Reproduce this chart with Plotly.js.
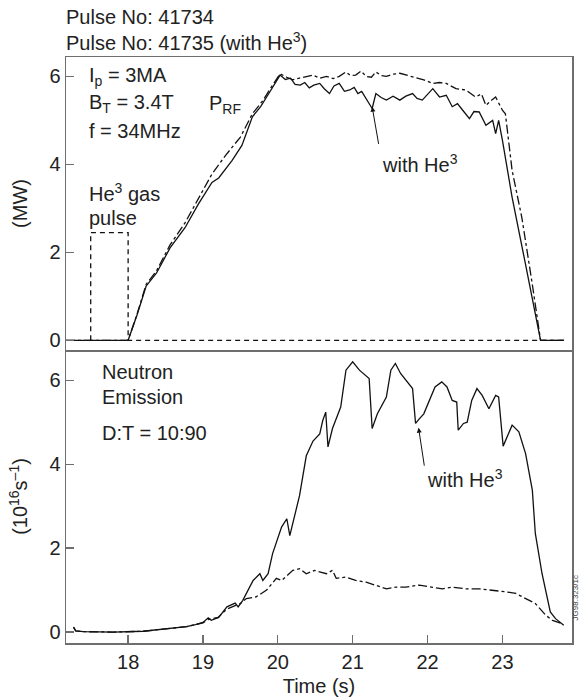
<!DOCTYPE html>
<html>
<head>
<meta charset="utf-8">
<script src="https://cdn.plot.ly/plotly-3.0.1.min.js"></script>
<style>html,body{margin:0;padding:0;background:#fff;}#chart{width:581px;height:697px;}</style>
</head>
<body>
<div id="chart"></div>
<script>
// ---- Top panel: RF power (MW) ----
const prfHe3T = [17.17, 18.0, 18.12, 18.24, 18.38, 18.56, 18.76, 18.94, 19.12, 19.21, 19.39, 19.52, 19.66, 19.77, 19.88, 20.03, 20.1, 20.17, 20.23, 20.3, 20.36, 20.42, 20.48, 20.56, 20.62, 20.69, 20.75, 20.82, 20.89, 20.96, 21.02, 21.07, 21.12, 21.18, 21.26, 21.31, 21.38, 21.45, 21.54, 21.63, 21.71, 21.8, 21.86, 21.93, 22.0, 22.07, 22.16, 22.25, 22.33, 22.4, 22.47, 22.56, 22.62, 22.69, 22.78, 22.87, 22.91, 22.95, 23.0, 23.06, 23.13, 23.31, 23.51, 23.82];
const prfHe3V = [0, 0, 0.58, 1.23, 1.53, 2.1, 2.56, 3.1, 3.59, 3.69, 4.09, 4.43, 5.08, 5.31, 5.61, 6.03, 5.93, 5.96, 5.82, 5.8, 5.86, 5.74, 5.8, 5.84, 5.72, 5.61, 5.78, 5.84, 5.66, 5.69, 5.75, 5.61, 5.66, 5.5, 5.27, 5.61, 5.52, 5.46, 5.55, 5.46, 5.55, 5.61, 5.5, 5.46, 5.6, 5.72, 5.53, 5.57, 5.31, 5.38, 5.23, 5.04, 5.2, 5.19, 4.89, 5.0, 4.7, 5.0, 4.55, 3.94, 3.25, 1.72, 0, 0];
const prfT = [17.17, 18.0, 18.12, 18.24, 18.38, 18.56, 18.76, 18.94, 19.12, 19.3, 19.5, 19.66, 19.8, 19.9, 20.03, 20.12, 20.2, 20.29, 20.38, 20.47, 20.56, 20.65, 20.74, 20.82, 20.91, 20.97, 21.04, 21.11, 21.18, 21.25, 21.31, 21.38, 21.45, 21.54, 21.63, 21.71, 21.84, 21.95, 22.07, 22.16, 22.25, 22.38, 22.51, 22.64, 22.72, 22.78, 22.85, 22.91, 23.0, 23.04, 23.13, 23.26, 23.4, 23.51, 23.82];
const prfV = [0, 0, 0.6, 1.27, 1.58, 2.17, 2.67, 3.22, 3.78, 4.2, 4.62, 5.15, 5.45, 5.72, 6.06, 5.98, 5.92, 5.96, 6.0, 6.03, 5.96, 6.0, 5.95, 6.0, 6.1, 6.02, 6.03, 6.12, 6.0, 5.98, 6.1, 6.02, 6.0, 6.05, 6.07, 6.03, 5.96, 5.92, 5.84, 5.86, 5.84, 5.72, 5.69, 5.53, 5.6, 5.34, 5.45, 5.53, 5.23, 5.15, 3.86, 2.79, 1.27, 0, 0];
const gasT = [17.5, 17.5, 18.0, 18.0, 23.82];
const gasV = [0, 2.45, 2.45, 0, 0];

// ---- Bottom panel: neutron emission (10^16 s^-1) ----
const neutHe3T = [17.27, 17.3, 17.4, 17.8, 18.2, 18.42, 18.6, 18.78, 18.9, 19.0, 19.07, 19.11, 19.21, 19.32, 19.43, 19.47, 19.53, 19.67, 19.76, 19.8, 19.87, 19.93, 20.05, 20.12, 20.16, 20.29, 20.38, 20.47, 20.56, 20.6, 20.64, 20.67, 20.73, 20.84, 20.91, 21.0, 21.09, 21.22, 21.26, 21.33, 21.45, 21.51, 21.57, 21.64, 21.8, 21.84, 21.89, 21.95, 22.1, 22.19, 22.26, 22.33, 22.39, 22.41, 22.48, 22.53, 22.59, 22.66, 22.73, 22.82, 22.91, 22.95, 23.01, 23.06, 23.13, 23.22, 23.31, 23.4, 23.44, 23.53, 23.64, 23.71, 23.82];
const neutHe3V = [0.12, 0.03, 0.01, 0.0, 0.02, 0.06, 0.09, 0.13, 0.18, 0.23, 0.34, 0.28, 0.35, 0.6, 0.69, 0.6, 0.75, 1.23, 1.39, 1.23, 1.39, 1.87, 2.5, 2.7, 2.3, 3.25, 4.2, 4.55, 4.72, 5.04, 5.24, 4.41, 4.85, 5.36, 6.24, 6.44, 6.24, 6.04, 4.85, 5.2, 5.6, 6.24, 6.4, 6.16, 5.8, 4.97, 5.08, 5.2, 5.84, 5.96, 5.84, 5.52, 5.48, 4.81, 4.97, 5.0, 5.52, 5.8, 5.64, 5.32, 5.64, 5.6, 4.43, 4.65, 4.93, 4.77, 4.25, 3.38, 2.35, 1.39, 0.48, 0.32, 0.16];
const neutT = [17.27, 17.3, 17.4, 17.8, 18.2, 18.42, 18.6, 18.78, 18.9, 19.0, 19.07, 19.2, 19.32, 19.43, 19.5, 19.58, 19.71, 19.85, 19.98, 20.05, 20.2, 20.29, 20.38, 20.49, 20.56, 20.65, 20.73, 20.78, 20.91, 21.04, 21.18, 21.31, 21.45, 21.58, 21.71, 21.89, 22.07, 22.2, 22.33, 22.51, 22.69, 22.87, 23.04, 23.18, 23.31, 23.44, 23.58, 23.67, 23.8];
const neutV = [0.12, 0.03, 0.01, 0.0, 0.02, 0.06, 0.09, 0.13, 0.18, 0.22, 0.3, 0.35, 0.55, 0.62, 0.68, 0.8, 0.84, 1.0, 1.28, 1.23, 1.47, 1.51, 1.39, 1.47, 1.43, 1.39, 1.47, 1.28, 1.31, 1.23, 1.19, 1.12, 1.03, 1.07, 1.07, 1.12, 1.07, 1.03, 1.07, 1.03, 1.03, 1.0, 0.96, 0.92, 0.8, 0.68, 0.4, 0.28, 0.2];

const xTicks = [18, 19, 20, 21, 22, 23];
const yTicks = [0, 2, 4, 6];

const ink = '#111';
const axisCol = '#6e6e6e';
const FONT = 'Liberation Sans, Arial, Helvetica, sans-serif';
const tf = {family: FONT, size: 20, color: '#222'};

const traces = [
  {x: gasT, y: gasV, xaxis: 'x', yaxis: 'y', mode: 'lines', line: {color: ink, width: 1.3, dash: '5px,4px'}},
  {x: prfT, y: prfV, xaxis: 'x', yaxis: 'y', mode: 'lines', line: {color: ink, width: 1.3, dash: 'dashdot'}},
  {x: prfHe3T, y: prfHe3V, xaxis: 'x', yaxis: 'y', mode: 'lines', line: {color: ink, width: 1.3}},
  {x: neutT, y: neutV, xaxis: 'x2', yaxis: 'y2', mode: 'lines', line: {color: ink, width: 1.3, dash: 'dashdot'}},
  {x: neutHe3T, y: neutHe3V, xaxis: 'x2', yaxis: 'y2', mode: 'lines', line: {color: ink, width: 1.3}}
];

const axBase = {showline: true, mirror: true, linecolor: axisCol, linewidth: 1.5, showgrid: false, zeroline: false,
  ticks: 'inside', ticklen: 8, tickcolor: axisCol, tickwidth: 1.3, tickfont: tf};

function ann(x, y, text, xr, yr, extra) {
  return Object.assign({x: x, y: y, xref: xr, yref: yr, text: text, showarrow: false, xanchor: 'left', yanchor: 'middle', font: tf}, extra || {});
}

const layout = {
  width: 581, height: 697,
  margin: {l: 66, r: 9, t: 57, b: 54},
  paper_bgcolor: '#fff', plot_bgcolor: '#fff',
  showlegend: false,
  font: tf,
  xaxis: Object.assign({}, axBase, {domain: [0, 1], anchor: 'y', range: [17.17, 23.93], tickvals: xTicks, showticklabels: false, ticks: ''}),
  yaxis: Object.assign({}, axBase, {domain: [0.5, 1], anchor: 'x', range: [-0.22, 6.44], tickvals: yTicks,
    title: {text: '(MW)', standoff: 16, font: tf}}),
  xaxis2: Object.assign({}, axBase, {domain: [0, 1], anchor: 'y2', mirror: false, range: [17.17, 23.93], tickvals: xTicks,
    title: {text: 'Time (s)', standoff: 8, font: tf}}),
  yaxis2: Object.assign({}, axBase, {domain: [0, 0.5], anchor: 'x2', range: [-0.26, 6.72], tickvals: yTicks,
    title: {text: '(10<sup>16</sup>s<sup>–1</sup>)', standoff: 16, font: tf}}),
  annotations: [
    {x: 0, y: 1.0, xref: 'paper', yref: 'paper', yshift: 40, xshift: -2, text: 'Pulse No: 41734', showarrow: false, xanchor: 'left', yanchor: 'middle', font: tf},
    {x: 0, y: 1.0, xref: 'paper', yref: 'paper', yshift: 16, xshift: -2, text: 'Pulse No: 41735 (with He<sup>3</sup>)', showarrow: false, xanchor: 'left', yanchor: 'middle', font: tf},
    ann(17.45, 6.0, 'I<sub>p</sub> = 3MA', 'x', 'y'),
    ann(17.45, 5.39, 'B<sub>T</sub> = 3.4T', 'x', 'y'),
    ann(17.45, 4.75, 'f = 34MHz', 'x', 'y'),
    ann(19.06, 5.37, 'P<sub>RF</sub>', 'x', 'y'),
    ann(17.45, 3.36, 'He<sup>3</sup> gas', 'x', 'y'),
    ann(17.45, 2.79, 'pulse', 'x', 'y'),
    ann(21.36, 4.02, 'with He<sup>3</sup>', 'x', 'y'),
    {x: 21.26, y: 5.31, ax: 21.35, ay: 4.43, axref: 'x', ayref: 'y', xref: 'x', yref: 'y', text: '', showarrow: true, arrowhead: 2, arrowsize: 1, arrowwidth: 1, arrowcolor: ink, standoff: 0},
    ann(17.62, 6.19, 'Neutron', 'x2', 'y2'),
    ann(17.62, 5.6, 'Emission', 'x2', 'y2'),
    ann(17.62, 4.74, 'D:T = 10:90', 'x2', 'y2'),
    ann(21.96, 3.66, 'with He<sup>3</sup>', 'x2', 'y2'),
    {x: 21.88, y: 4.87, ax: 21.96, ay: 3.93, axref: 'x2', ayref: 'y2', xref: 'x2', yref: 'y2', text: '', showarrow: true, arrowhead: 2, arrowsize: 1, arrowwidth: 1, arrowcolor: ink, standoff: 0},
    {x: 1, y: 0.076, xref: 'paper', yref: 'paper', xshift: 3, text: 'JG98.323/1c', textangle: -90, showarrow: false, xanchor: 'center', yanchor: 'middle', font: {family: FONT, size: 8, color: '#444'}}
  ]
};

Plotly.newPlot('chart', traces, layout, {displayModeBar: false, staticPlot: true});
</script>
</body>
</html>
